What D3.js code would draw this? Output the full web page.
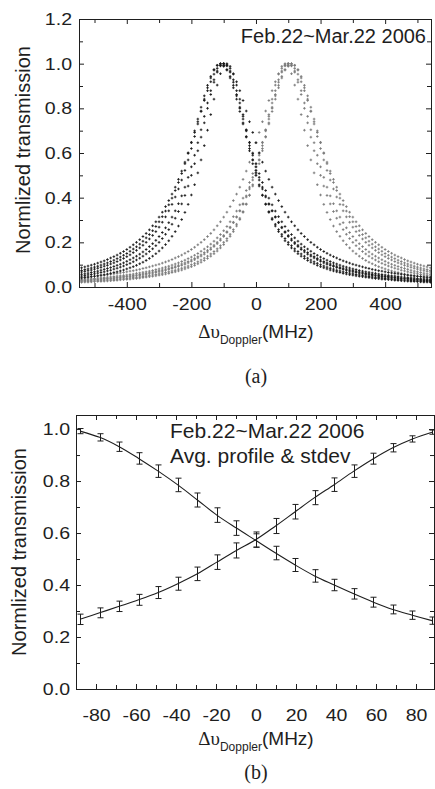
<!DOCTYPE html>
<html>
<head>
<meta charset="utf-8">
<script src="https://cdn.jsdelivr.net/npm/d3@7/dist/d3.min.js"></script>
<style>
body { margin: 0; background: #fff; }
svg text { font-family: "Liberation Sans", Arial, Helvetica, sans-serif; fill: #1e1e1e; }
</style>
</head>
<body>
<svg id="fig" width="435" height="789"></svg>
<script>
// ---- panel (a): daily profiles, Feb.22 ~ Mar.22 2006 ----
var detuning = [-540,-530,-520,-510,-500,-490,-480,-470,-460,-450,-440,-430,-420,-410,-400,-390,-380,-370,-360,-350,
    -340,-330,-320,-310,-300,-290,-280,-270,-260,-250,-240,-230,-220,-210,-200,-190,-180,-170,-160,-150,
    -140,-130,-120,-110,-100,-90,-80,-70,-60,-50,-40,-30,-20,-10,0,10,20,30,40,50,60,70,80,90,100,
    110,120,130,140,150,160,170,180,190,200,210,220,230,240,250,260,270,280,290,300,310,320,330,340,350,
    360,370,380,390,400,410,420,430,440,450,460,470,480,490,500,510,520,530,540];

// dark points (line 1)
var darkDay1 = [.049,.051,.054,.056,.059,.062,.065,.068,.072,.075,.080,.084,.089,.094,.100,.106,.113,.121,.129,.138,.148,.159,.171,.185,.200,.217,.236,.257,.281,.308,.338,.372,.410,.452,.500,.552,.610,.671,.735,.800,.862,.917,.962,.990,1.000,
    .990,.962,.917,.862,.800,.735,.671,.610,.552,.500,.452,.410,.372,.338,.308,.281,.257,.236,.217,.200,.185,.171,.159,.148,.138,.129,.121,.113,.106,.100,.094,.089,.084,.080,.075,.072,.068,.065,.062,.059,.056,.054,.051,.049,.047,.045,.043,.042,.040,.038,.037,.036,.034,.033,.032,.031,.030,.029,.028,.027,.026,.025,.025,.024];
var darkDay2 = [.067,.070,.073,.076,.080,.084,.088,.093,.097,.103,.108,.114,.121,.128,.136,.144,.154,.164,.175,.187,.200,.215,.231,.248,.268,.290,.314,.341,.370,.403,.439,.479,.522,.569,.620,.674,.730,.786,.841,.892,.936,.971,.992,1.000,
    .992,.971,.936,.892,.841,.786,.730,.674,.620,.569,.522,.479,.439,.403,.370,.341,.314,.290,.268,.248,.231,.215,.200,.187,.175,.164,.154,.144,.136,.128,.121,.114,.108,.103,.097,.093,.088,.084,.080,.076,.073,.070,.067,.064,.061,.059,.056,.054,.052,.050,.048,.047,.045,.043,.042,.040,.039,.038,.037,.035,.034,.033,.032,.031,.030];
var darkDay3 = [.040,.042,.044,.046,.048,.050,.053,.055,.058,.061,.065,.068,.072,.076,.081,.086,.091,.097,.104,.111,.119,.128,.138,.149,.161,.175,.190,.207,.227,.248,.273,.302,.334,.370,.412,.458,.511,.569,.633,.702,.772,.841,.904,.955,.988,1.000,
    .988,.955,.904,.841,.772,.702,.633,.569,.511,.458,.412,.370,.334,.302,.273,.248,.227,.207,.190,.175,.161,.149,.138,.128,.119,.111,.104,.097,.091,.086,.081,.076,.072,.068,.065,.061,.058,.055,.053,.050,.048,.046,.044,.042,.040,.038,.037,.035,.034,.033,.032,.030,.029,.028,.027,.026,.025,.025,.024,.023,.022,.022,.021];
var darkDay4 = [.086,.090,.094,.098,.102,.107,.112,.117,.123,.130,.136,.143,.151,.159,.168,.178,.189,.200,.212,.226,.240,.256,.274,.292,.313,.335,.360,.387,.416,.447,.482,.519,.559,.601,.646,.692,.740,.788,.835,.879,.919,.953,.979,.995,1.000,
    .995,.979,.953,.919,.879,.835,.788,.740,.692,.646,.601,.559,.519,.482,.447,.416,.387,.360,.335,.313,.292,.274,.256,.240,.226,.212,.200,.189,.178,.168,.159,.151,.143,.136,.130,.123,.117,.112,.107,.102,.098,.094,.090,.086,.083,.079,.076,.073,.071,.068,.065,.063,.061,.059,.057,.055,.053,.051,.050,.048,.047,.045,.044,.043];
var darkDay5 = [.057,.059,.062,.065,.068,.071,.075,.079,.083,.087,.092,.097,.102,.108,.115,.122,.130,.138,.147,.157,.168,.181,.194,.209,.226,.244,.265,.288,.313,.341,.373,.408,.447,.491,.538,.590,.646,.704,.764,.824,.879,.928,.967,.992,1.000,
    .992,.967,.928,.879,.824,.764,.704,.646,.590,.538,.491,.447,.408,.373,.341,.313,.288,.265,.244,.226,.209,.194,.181,.168,.157,.147,.138,.130,.122,.115,.108,.102,.097,.092,.087,.083,.079,.075,.071,.068,.065,.062,.059,.057,.054,.052,.050,.048,.046,.045,.043,.041,.040,.038,.037,.036,.035,.034,.032,.031,.030,.029,.029,.028];
var darkDay6 = [.074,.078,.081,.085,.089,.093,.098,.103,.108,.114,.120,.127,.134,.142,.150,.160,.170,.180,.192,.205,.220,.235,.252,.271,.292,.315,.340,.368,.398,.432,.468,.508,.552,.598,.648,.699,.752,.805,.856,.903,.943,.974,.993,1.000,
    .993,.974,.943,.903,.856,.805,.752,.699,.648,.598,.552,.508,.468,.432,.398,.368,.340,.315,.292,.271,.252,.235,.220,.205,.192,.180,.170,.160,.150,.142,.134,.127,.120,.114,.108,.103,.098,.093,.089,.085,.081,.078,.074,.071,.068,.066,.063,.061,.058,.056,.054,.052,.050,.049,.047,.045,.044,.042,.041,.040,.038,.037,.036,.035,.034];

// gray points (line 2)
var grayDay1 = [.024,.025,.025,.026,.027,.028,.029,.030,.031,.032,.033,.034,.036,.037,.038,.040,.042,.043,.045,.047,.049,.051,.054,.056,.059,.062,.065,.068,.072,.075,.080,.084,.089,.094,.100,.106,.113,.121,.129,.138,.148,.159,.171,.185,.200,.217,.236,.257,.281,.308,.338,.372,.410,.452,.500,.552,.610,.671,.735,.800,.862,.917,.962,.990,1.000,
    .990,.962,.917,.862,.800,.735,.671,.610,.552,.500,.452,.410,.372,.338,.308,.281,.257,.236,.217,.200,.185,.171,.159,.148,.138,.129,.121,.113,.106,.100,.094,.089,.084,.080,.075,.072,.068,.065,.062,.059,.056,.054,.051,.049];
var grayDay2 = [.030,.031,.032,.033,.034,.035,.037,.038,.039,.040,.042,.043,.045,.047,.048,.050,.052,.054,.056,.059,.061,.064,.067,.070,.073,.076,.080,.084,.088,.093,.097,.103,.108,.114,.121,.128,.136,.144,.154,.164,.175,.187,.200,.215,.231,.248,.268,.290,.314,.341,.370,.403,.439,.479,.522,.569,.620,.674,.730,.786,.841,.892,.936,.971,.992,1.000,
    .992,.971,.936,.892,.841,.786,.730,.674,.620,.569,.522,.479,.439,.403,.370,.341,.314,.290,.268,.248,.231,.215,.200,.187,.175,.164,.154,.144,.136,.128,.121,.114,.108,.103,.097,.093,.088,.084,.080,.076,.073,.070,.067];
var grayDay3 = [.021,.022,.022,.023,.024,.025,.025,.026,.027,.028,.029,.030,.032,.033,.034,.035,.037,.038,.040,.042,.044,.046,.048,.050,.053,.055,.058,.061,.065,.068,.072,.076,.081,.086,.091,.097,.104,.111,.119,.128,.138,.149,.161,.175,.190,.207,.227,.248,.273,.302,.334,.370,.412,.458,.511,.569,.633,.702,.772,.841,.904,.955,.988,1.000,
    .988,.955,.904,.841,.772,.702,.633,.569,.511,.458,.412,.370,.334,.302,.273,.248,.227,.207,.190,.175,.161,.149,.138,.128,.119,.111,.104,.097,.091,.086,.081,.076,.072,.068,.065,.061,.058,.055,.053,.050,.048,.046,.044,.042,.040];
var grayDay4 = [.043,.044,.045,.047,.048,.050,.051,.053,.055,.057,.059,.061,.063,.065,.068,.071,.073,.076,.079,.083,.086,.090,.094,.098,.102,.107,.112,.117,.123,.130,.136,.143,.151,.159,.168,.178,.189,.200,.212,.226,.240,.256,.274,.292,.313,.335,.360,.387,.416,.447,.482,.519,.559,.601,.646,.692,.740,.788,.835,.879,.919,.953,.979,.995,1.000,
    .995,.979,.953,.919,.879,.835,.788,.740,.692,.646,.601,.559,.519,.482,.447,.416,.387,.360,.335,.313,.292,.274,.256,.240,.226,.212,.200,.189,.178,.168,.159,.151,.143,.136,.130,.123,.117,.112,.107,.102,.098,.094,.090,.086];
var grayDay5 = [.028,.029,.029,.030,.031,.032,.034,.035,.036,.037,.038,.040,.041,.043,.045,.046,.048,.050,.052,.054,.057,.059,.062,.065,.068,.071,.075,.079,.083,.087,.092,.097,.102,.108,.115,.122,.130,.138,.147,.157,.168,.181,.194,.209,.226,.244,.265,.288,.313,.341,.373,.408,.447,.491,.538,.590,.646,.704,.764,.824,.879,.928,.967,.992,1.000,
    .992,.967,.928,.879,.824,.764,.704,.646,.590,.538,.491,.447,.408,.373,.341,.313,.288,.265,.244,.226,.209,.194,.181,.168,.157,.147,.138,.130,.122,.115,.108,.102,.097,.092,.087,.083,.079,.075,.071,.068,.065,.062,.059,.057];
var grayDay6 = [.034,.035,.036,.037,.038,.040,.041,.042,.044,.045,.047,.049,.050,.052,.054,.056,.058,.061,.063,.066,.068,.071,.074,.078,.081,.085,.089,.093,.098,.103,.108,.114,.120,.127,.134,.142,.150,.160,.170,.180,.192,.205,.220,.235,.252,.271,.292,.315,.340,.368,.398,.432,.468,.508,.552,.598,.648,.699,.752,.805,.856,.903,.943,.974,.993,1.000,
    .993,.974,.943,.903,.856,.805,.752,.699,.648,.598,.552,.508,.468,.432,.398,.368,.340,.315,.292,.271,.252,.235,.220,.205,.192,.180,.170,.160,.150,.142,.134,.127,.120,.114,.108,.103,.098,.093,.089,.085,.081,.078,.074];

var xTicksA = [-400, -200, 0, 200, 400];
var xMinorA = [-500, -300, -100, 100, 300, 500];
var yTicksA = [0, 0.2, 0.4, 0.6, 0.8, 1.0, 1.2];
var yMinorA = [0.1, 0.3, 0.5, 0.7, 0.9, 1.1];

// ---- panel (b): average profile & stdev ----
var avgX = [-88, -78.2, -68.4, -58.7, -48.9, -39.1, -29.3, -19.6, -9.8, 0, 9.8, 19.6, 29.3, 39.1, 48.9, 58.7, 68.4, 78.2, 88];
var avgDown = [0.992, 0.968, 0.932, 0.887, 0.838, 0.785, 0.727, 0.669, 0.619, 0.571, 0.523, 0.477, 0.435, 0.400, 0.366, 0.334, 0.306, 0.284, 0.263];
var avgDownErr = [0.010, 0.014, 0.018, 0.022, 0.024, 0.026, 0.027, 0.028, 0.028, 0.026, 0.026, 0.025, 0.024, 0.022, 0.020, 0.019, 0.017, 0.016, 0.014];
var avgUp = [0.268, 0.293, 0.318, 0.343, 0.371, 0.405, 0.443, 0.488, 0.533, 0.575, 0.627, 0.682, 0.736, 0.786, 0.838, 0.886, 0.928, 0.962, 0.988];
var avgUpErr = [0.020, 0.019, 0.020, 0.021, 0.023, 0.025, 0.026, 0.028, 0.029, 0.029, 0.029, 0.028, 0.027, 0.026, 0.024, 0.021, 0.016, 0.012, 0.008];

var xTicksB = [-80, -60, -40, -20, 0, 20, 40, 60, 80];
var xMinorB = [-70, -50, -30, -10, 10, 30, 50, 70];
var yTicksB = [0, 0.2, 0.4, 0.6, 0.8, 1.0];
var yMinorB = [0.1, 0.3, 0.5, 0.7, 0.9];

var svg = d3.select("#fig");
var INK = "#1e1e1e";
var STRETCH = 1.15;   // tick numbers in the original are a bit wider than Arial

function side(g, make, transform, values, size, fmt, pad) {
    var a = make().tickValues(values).tickSizeInner(-size).tickSizeOuter(0)
        .tickPadding(pad || 0)
        .tickFormat(fmt || function () { return ""; });
    var s = g.append("g").attr("transform", transform).call(a);
    s.select(".domain").remove();
    s.attr("color", INK).attr("font-size", 17).attr("font-family", null);
    s.selectAll(".tick text").attr("transform", "scale(" + STRETCH + ",1)");
    return s;
}

function drawBox(g, x, y, o) {
    var x0 = x.range()[0], x1 = x.range()[1], y0 = y.range()[0], y1 = y.range()[1];
    var bottom = function () { return d3.axisBottom(x); };
    var top = function () { return d3.axisTop(x); };
    var left = function () { return d3.axisLeft(y); };
    var right = function () { return d3.axisRight(y); };

    side(g, bottom, "translate(0," + y0 + ")", o.xMajor, 5, o.xFmt, o.xPad);
    side(g, bottom, "translate(0," + y0 + ")", o.xMinor, 4);
    side(g, top, "translate(0," + y1 + ")", o.xMajor, 5);
    side(g, top, "translate(0," + y1 + ")", o.xMinor, 4);
    side(g, left, "translate(" + x0 + ",0)", o.yMajor, 5, o.yFmt, o.yPad / STRETCH);
    side(g, left, "translate(" + x0 + ",0)", o.yMinor, 4);
    side(g, right, "translate(" + x1 + ",0)", o.yMajor, 5);
    side(g, right, "translate(" + x1 + ",0)", o.yMinor, 4);

    g.append("rect")
        .attr("x", x0 + 0.5).attr("y", y1 + 0.5)
        .attr("width", x1 - x0).attr("height", y0 - y1)
        .attr("fill", "none").attr("stroke", INK).attr("stroke-width", 1);
}

function xTitle(cx, baseline) {
    var t = svg.append("text")
        .attr("x", cx).attr("y", baseline)
        .attr("text-anchor", "middle")
        .style("font-size", "19px");
    t.append("tspan").style("font-family", "'Liberation Serif', 'Times New Roman', serif").text("\u0394\u03c5");
    t.append("tspan").attr("dy", 6).style("font-size", "12px").text("Doppler");
    t.append("tspan").attr("dy", -6).text("(MHz)");
}

function yTitle(bx, cy) {
    svg.append("text")
        .attr("transform", "translate(" + bx + "," + cy + ") rotate(-90)")
        .attr("text-anchor", "middle")
        .style("font-size", "20px")
        .text("Normlized transmission");
}

function panelLabel(cx, baseline, txt) {
    svg.append("text")
        .attr("x", cx).attr("y", baseline)
        .attr("text-anchor", "middle")
        .style("font-family", "'Liberation Serif', 'Times New Roman', serif")
        .style("font-size", "20px")
        .text(txt);
}

function plainFmt(d) { return d; }

// ================= panel (a) =================
var xa = d3.scaleLinear().domain([-548, 542]).range([79, 431]);
var ya = d3.scaleLinear().domain([0, 1.2]).range([287, 19]);
var ga = svg.append("g");

// small "+" markers, one per reading
function dots(g, values, color) {
    g.append("g").attr("stroke", color).attr("stroke-width", 0.9).attr("fill", "none")
        .selectAll("path")
        .data(detuning.map(function (d, i) { return [d, values[i]]; }))
        .enter().append("path")
        .attr("d", function (d) {
            var cx = xa(d[0]), cy = ya(d[1]);
            return "M" + (cx - 1.3) + "," + cy + "h2.6M" + cx + "," + (cy - 1.3) + "v2.6";
        });
}

[grayDay1, grayDay2, grayDay3, grayDay4, grayDay5, grayDay6].forEach(function (v) { dots(ga, v, "#7a7a7a"); });
[darkDay1, darkDay2, darkDay3, darkDay4, darkDay5, darkDay6].forEach(function (v) { dots(ga, v, "#1a1a1a"); });

drawBox(ga, xa, ya, {
    xMajor: xTicksA, xMinor: xMinorA, xFmt: plainFmt, xPad: 11,
    yMajor: yTicksA, yMinor: yMinorA, yFmt: d3.format(".1f"), yPad: 7
});

ga.append("text")
    .attr("x", 426).attr("y", 43)
    .attr("text-anchor", "end")
    .style("font-size", "20px")
    .text("Feb.22~Mar.22 2006");

yTitle(30, 150);
xTitle(256, 338);
panelLabel(256, 383, "(a)");

// ================= panel (b) =================
var xb = d3.scaleLinear().domain([-90, 89]).range([76, 434]);
var yb = d3.scaleLinear().domain([0, 1.054]).range([689, 415]);
var gb = svg.append("g");

var curve = d3.line()
    .x(function (d) { return xb(d[0]); })
    .y(function (d) { return yb(d[1]); })
    .curve(d3.curveCatmullRom.alpha(0.5));

function profile(g, values, errs) {
    var pts = avgX.map(function (d, i) { return [d, values[i], errs[i]]; });
    g.append("path")
        .attr("d", curve(pts))
        .attr("fill", "none").attr("stroke", INK).attr("stroke-width", 1.1);

    var bars = g.append("g").attr("stroke", INK).attr("stroke-width", 1).attr("fill", "none");
    bars.selectAll("path")
        .data(pts)
        .enter().append("path")
        .attr("d", function (d) {
            var cx = Math.round(xb(d[0])) + 0.5;
            var t = yb(d[1] + d[2]), b = yb(d[1] - d[2]);
            return "M" + (cx - 3) + "," + t + "H" + (cx + 3) +
                "M" + cx + "," + t + "V" + b +
                "M" + (cx - 3) + "," + b + "H" + (cx + 3);
        });
}

profile(gb, avgDown, avgDownErr);
profile(gb, avgUp, avgUpErr);

drawBox(gb, xb, yb, {
    xMajor: xTicksB, xMinor: xMinorB, xFmt: plainFmt, xPad: 20,
    yMajor: yTicksB, yMinor: yMinorB, yFmt: d3.format(".1f"), yPad: 6
});

gb.append("text")
    .attr("x", 170).attr("y", 438)
    .style("font-size", "21px")
    .text("Feb.22~Mar.22 2006");
gb.append("text")
    .attr("x", 170).attr("y", 463)
    .style("font-size", "21px")
    .text("Avg. profile & stdev");

yTitle(26, 552);
xTitle(256, 745);
panelLabel(256, 779, "(b)");
</script>
</body>
</html>
